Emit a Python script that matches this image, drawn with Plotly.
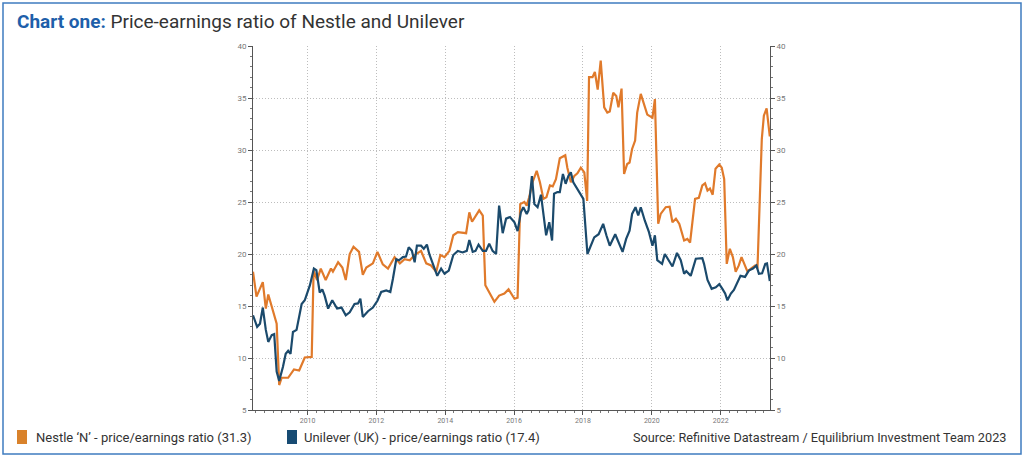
import plotly.graph_objects as go

# ---------------- data ----------------
nestle_dates = [
    "2008-06-01", "2008-07-08", "2008-09-13", "2008-10-15", "2008-11-10", "2009-02-07",
    "2009-03-06", "2009-04-01", "2009-06-09", "2009-08-10", "2009-10-04", "2009-12-02",
    "2010-02-14", "2010-03-06", "2010-04-12", "2010-05-21", "2010-07-12", "2010-09-06",
    "2010-09-27", "2010-11-21", "2011-01-05", "2011-02-10", "2011-03-24", "2011-05-03",
    "2011-07-01", "2011-08-10", "2011-09-16", "2011-11-25", "2012-01-12", "2012-03-09",
    "2012-05-03", "2012-07-12", "2012-09-06", "2012-10-26", "2012-12-20", "2013-02-10",
    "2013-04-19", "2013-06-13", "2013-08-03", "2013-09-27", "2013-11-10", "2013-12-24",
    "2014-02-14", "2014-03-27", "2014-05-14", "2014-08-10", "2014-09-13", "2014-10-12",
    "2014-12-27", "2015-02-03", "2015-03-02", "2015-04-12", "2015-06-06", "2015-07-26",
    "2015-09-20", "2015-11-03", "2016-01-05", "2016-02-07", "2016-03-06", "2016-04-19",
    "2016-05-14", "2016-06-09", "2016-07-15", "2016-08-28", "2016-10-01", "2016-11-07",
    "2016-12-09", "2017-01-15", "2017-02-14", "2017-03-20", "2017-04-30", "2017-06-27",
    "2017-07-19", "2017-08-25", "2017-10-01", "2017-11-03", "2017-12-09", "2018-01-15",
    "2018-02-14", "2018-03-06", "2018-04-12", "2018-05-07", "2018-06-06", "2018-07-08",
    "2018-08-14", "2018-09-16", "2018-10-12", "2018-11-18", "2018-12-20", "2019-01-12",
    "2019-02-14", "2019-03-13", "2019-04-15", "2019-05-10", "2019-06-06", "2019-07-08",
    "2019-07-30", "2019-09-06", "2019-10-12", "2019-11-14", "2020-01-08", "2020-02-03",
    "2020-03-09", "2020-04-04", "2020-05-28", "2020-07-08", "2020-08-07", "2020-09-13",
    "2020-10-19", "2020-12-09", "2021-01-12", "2021-02-10", "2021-04-04", "2021-05-14",
    "2021-06-20", "2021-07-19", "2021-08-14", "2021-09-09", "2021-10-08", "2021-11-07",
    "2021-12-17", "2022-01-12", "2022-02-07", "2022-03-06", "2022-04-08", "2022-05-10",
    "2022-06-09", "2022-07-12", "2022-08-10", "2022-09-16", "2022-10-12", "2022-11-18",
    "2023-01-01", "2023-01-26", "2023-02-21", "2023-03-13", "2023-04-04", "2023-05-03",
    "2023-06-06",
]
nestle_pe = [
    18.3, 15.9, 17.3, 14.75, 16.1, 13.3,
    7.4, 8.1, 8.1, 8.9, 8.8, 10.05,
    10.1, 18.4, 17.5, 18.6, 17.5, 18.6,
    18.3, 19.2, 18.7, 17.5, 20.0, 20.7,
    20.2, 18.0, 18.7, 19.1, 20.2, 19.0,
    18.6, 19.7, 19.1, 19.5, 19.4, 19.9,
    20.3, 19.1, 18.9, 18.3, 19.9, 19.7,
    20.3, 21.8, 22.1, 22.0, 24.0, 23.1,
    24.2, 23.7, 17.0, 16.3, 15.4, 16.0,
    16.2, 16.6, 15.7, 15.8, 24.8, 25.0,
    24.65, 25.45, 26.9, 28.0, 26.9, 25.3,
    25.45, 26.6, 26.5, 27.2, 29.2, 29.5,
    28.3, 26.9, 27.5, 27.75, 28.3, 27.85,
    25.1, 37.0, 37.0, 37.5, 35.8, 38.6,
    34.1, 33.6, 33.7, 35.5, 35.2, 34.1,
    35.9, 27.7, 28.65, 28.8, 30.1, 30.9,
    33.6, 35.4, 34.4, 33.4, 33.1, 34.9,
    22.9, 23.85, 24.5, 24.55, 23.05, 23.4,
    22.9, 21.3, 21.45, 21.1, 25.3, 25.4,
    26.6, 26.8, 26.1, 26.3, 25.7, 28.2,
    28.6, 28.3, 27.2, 19.05, 20.5, 19.7,
    18.3, 18.9, 19.7, 18.9, 18.3, 18.6,
    18.9, 18.6, 25.0, 31.05, 33.3, 34.0,
    31.3,
]

unilever_dates = [
    "2008-06-01", "2008-07-15", "2008-08-14", "2008-09-13", "2008-10-15", "2008-11-10",
    "2008-12-17", "2009-01-12", "2009-02-07", "2009-03-06", "2009-04-15", "2009-05-14",
    "2009-06-09", "2009-07-04", "2009-07-30", "2009-09-06", "2009-10-30", "2009-12-02",
    "2010-01-26", "2010-03-09", "2010-04-04", "2010-05-10", "2010-06-06", "2010-07-01",
    "2010-08-07", "2010-09-20", "2010-11-10", "2010-12-27", "2011-02-10", "2011-03-24",
    "2011-05-14", "2011-06-20", "2011-07-15", "2011-08-10", "2011-10-04", "2011-11-25",
    "2012-01-12", "2012-02-21", "2012-04-15", "2012-05-28", "2012-06-24", "2012-07-30",
    "2012-08-28", "2012-10-08", "2012-11-10", "2012-12-09", "2013-01-12", "2013-02-10",
    "2013-03-06", "2013-04-19", "2013-05-18", "2013-06-20", "2013-07-15", "2013-08-21",
    "2013-10-08", "2013-11-18", "2013-12-24", "2014-02-07", "2014-03-27", "2014-05-14",
    "2014-07-04", "2014-08-17", "2014-09-13", "2014-10-19", "2014-11-18", "2014-12-20",
    "2015-02-03", "2015-03-09", "2015-04-12", "2015-05-18", "2015-06-24", "2015-07-26",
    "2015-09-02", "2015-10-08", "2015-11-18", "2016-01-05", "2016-02-07", "2016-03-13",
    "2016-04-08", "2016-05-14", "2016-06-02", "2016-07-08", "2016-08-03", "2016-09-06",
    "2016-10-12", "2016-12-06", "2017-01-08", "2017-02-07", "2017-02-28", "2017-04-04",
    "2017-04-30", "2017-06-02", "2017-07-01", "2017-07-30", "2017-08-25", "2017-09-20",
    "2017-11-03", "2018-01-05", "2018-02-17", "2018-04-12", "2018-04-30", "2018-06-16",
    "2018-08-03", "2018-09-06", "2018-10-12", "2018-12-09", "2019-01-19", "2019-02-25",
    "2019-04-04", "2019-05-10", "2019-06-06", "2019-07-12", "2019-08-10", "2019-09-06",
    "2019-10-19", "2019-12-02", "2020-01-08", "2020-02-03", "2020-02-28", "2020-04-19",
    "2020-05-18", "2020-06-24", "2020-08-07", "2020-09-24", "2020-11-03", "2020-12-09",
    "2021-01-01", "2021-02-17", "2021-04-12", "2021-06-20", "2021-07-08", "2021-08-14",
    "2021-09-27", "2021-11-10", "2021-12-17", "2022-01-19", "2022-02-17", "2022-03-13",
    "2022-04-19", "2022-05-21", "2022-06-27", "2022-07-30", "2022-09-16", "2022-10-26",
    "2022-12-09", "2023-01-15", "2023-02-10", "2023-03-16", "2023-04-19", "2023-05-07",
    "2023-06-06",
]
unilever_pe = [
    14.1, 13.0, 13.3, 14.85, 12.7, 11.55,
    12.2, 12.3, 8.7, 7.8, 9.15, 10.4,
    10.7, 10.4, 12.5, 12.7, 15.2, 15.55,
    17.0, 18.6, 18.45, 16.3, 16.6, 16.0,
    14.75, 15.55, 14.75, 14.85, 14.1, 14.4,
    15.2, 15.25, 15.7, 13.95, 14.5, 14.85,
    15.5, 16.35, 16.5, 16.35, 17.6, 19.5,
    19.4, 19.7, 19.75, 20.65, 20.3, 19.2,
    20.8, 20.8, 20.5, 20.9, 20.0, 19.05,
    17.9, 18.6, 18.1, 18.4, 19.9, 20.3,
    20.15, 20.3, 21.35, 20.2, 20.3, 20.9,
    20.3, 20.3, 21.0, 20.3, 20.0, 24.65,
    22.0, 23.4, 23.55, 23.05, 22.2, 24.0,
    24.5, 23.85, 24.2, 27.5, 24.8, 24.5,
    25.7, 21.8, 23.05, 21.3, 25.8, 25.95,
    25.95, 27.7, 26.75, 27.5, 27.85, 26.9,
    26.25, 25.3, 20.0, 21.1, 21.6, 21.9,
    22.9, 21.8, 20.8, 21.9, 21.0, 20.2,
    21.45, 22.25, 23.85, 24.5, 23.7, 24.5,
    23.2, 22.1, 20.8, 21.8, 19.4, 19.05,
    20.0, 19.4, 18.8, 20.1, 19.4, 18.1,
    18.35, 17.9, 19.55, 19.6, 19.05, 17.5,
    16.65, 16.8, 17.1, 16.65, 16.2, 15.55,
    16.2, 16.55, 17.3, 17.9, 17.8, 18.4,
    18.6, 18.9, 18.1, 18.15, 19.05, 19.1,
    17.4,
]

title_bold = "Chart one:"
title_rest = " Price-earnings ratio of Nestle and Unilever"
legend_nestle = "Nestle \u2018N\u2019 - price/earnings ratio (31.3)"
legend_unilever = "Unilever (UK) - price/earnings ratio (17.4)"
source_text = "Source: Refinitive Datastream / Equilibrium Investment Team 2023"

# ---------------- styling ----------------
W, H = 1024, 457
PL, PR, PT, PB = 253, 770, 46, 410  # plot area in pixels
ORANGE = "#E07A2B"
BLUE = "#1B4A6C"
TITLE_BLUE = "#1E5FAA"
FONT = "Roboto"


def px(xpix):
    return (xpix - PL) / (PR - PL)


def py(ypix):
    return (PB - ypix) / (PB - PT)


fig = go.Figure()
fig.add_trace(go.Scatter(x=nestle_dates, y=nestle_pe, mode="lines",
                         line=dict(color=ORANGE, width=2.2), showlegend=False,
                         name=legend_nestle))
fig.add_trace(go.Scatter(x=unilever_dates, y=unilever_pe, mode="lines",
                         line=dict(color=BLUE, width=2.2), showlegend=False,
                         name=legend_unilever, yaxis="y2"))

axis_common = dict(
    showline=True, linecolor="#555555", linewidth=1,
    ticks="outside", ticklen=4, tickcolor="#555555", tickwidth=1,
    showgrid=True, gridcolor="#bdbdbd", griddash="1px,2px", gridwidth=1,
    zeroline=False,
)

yax = dict(axis_common, range=[5, 40], dtick=5, tick0=5,
           tickfont=dict(family=FONT, size=8, color="#777777"),
           minor=dict(dtick=1, ticks="outside", ticklen=2, tickcolor="#777777",
                      showgrid=False))

fig.update_layout(
    width=W, height=H,
    margin=dict(l=PL, r=W - PR, t=PT, b=H - PB),
    paper_bgcolor="white", plot_bgcolor="white",
    xaxis=dict(axis_common, type="date", range=["2008-06-01", "2023-06-08"],
               dtick="M24", tick0="2010-01-01", tickformat="%Y",
               tickfont=dict(family=FONT, size=7, color="#777777"),
               minor=dict(dtick="M3", ticks="outside", ticklen=2,
                          tickcolor="#777777", showgrid=False)),
    yaxis=dict(yax, side="left"),
    yaxis2=dict(yax, side="right", overlaying="y", matches="y", showgrid=False),
    font=dict(family=FONT),
)

shapes = [
    # outer frame
    dict(type="rect", xref="paper", yref="paper",
         x0=px(3), x1=px(1021), y0=py(454), y1=py(3),
         line=dict(color="#3F7CC0", width=1.5), layer="below"),
    # legend squares
    dict(type="rect", xref="paper", yref="paper",
         x0=px(17), x1=px(27), y0=py(444), y1=py(430),
         fillcolor="#D9822B", line=dict(width=0)),
    dict(type="rect", xref="paper", yref="paper",
         x0=px(287), x1=px(297), y0=py(444), y1=py(430),
         fillcolor="#174B73", line=dict(width=0)),
]

annotations = [
    dict(xref="paper", yref="paper", x=px(15), y=py(21), xanchor="left", yanchor="middle",
         showarrow=False,
         text=f"<span style='color:{TITLE_BLUE}'><b>{title_bold}</b></span>{title_rest}",
         font=dict(family=FONT, size=19, color="#333333")),
    dict(xref="paper", yref="paper", x=px(34), y=py(437), xanchor="left", yanchor="middle",
         showarrow=False, text=legend_nestle,
         font=dict(family=FONT, size=13, color="#333333")),
    dict(xref="paper", yref="paper", x=px(302), y=py(437), xanchor="left", yanchor="middle",
         showarrow=False, text=legend_unilever,
         font=dict(family=FONT, size=13, color="#333333")),
    dict(xref="paper", yref="paper", x=px(1008), y=py(437), xanchor="right", yanchor="middle",
         showarrow=False, text=source_text,
         font=dict(family=FONT, size=12.7, color="#333333")),
]

fig.update_layout(shapes=shapes, annotations=annotations)

fig.write_html(
    "out.html",
    config={"displayModeBar": False},
    post_script="document.body.style.margin='0';document.body.style.overflow='hidden';",
)
